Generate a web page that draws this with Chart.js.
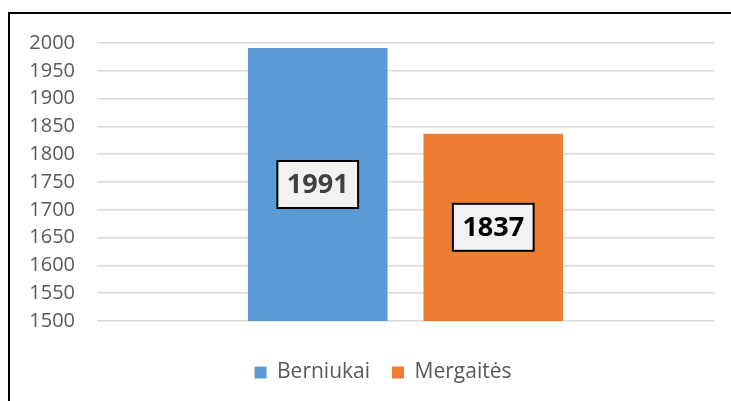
<!DOCTYPE html>
<html>
<head>
<meta charset="utf-8">
<script src="https://cdn.jsdelivr.net/npm/chart.js@4/dist/chart.umd.min.js"></script>
<style>
  html, body { margin: 0; padding: 0; background: #fff; }
  #wrap { position: relative; width: 731px; height: 401px; overflow: hidden; }
  #c { position: absolute; left: 0; top: 0; }
  #frame { position: absolute; left: 8px; top: 12px; width: 740px; height: 400px;
           border-top: 2px solid #000; border-left: 2px solid #000; box-sizing: border-box; pointer-events: none; }
</style>
</head>
<body>
<div id="wrap">
  <canvas id="c" width="731" height="401"></canvas>
  <div id="frame"></div>
</div>
<script>
const categories = [''];
const seriesNames = ['Berniukai', 'Mergaitės'];
const seriesValues = [[1991], [1837]];
const seriesColors = ['#5B9BD5', '#ED7D31'];
const labelTextColors = ['#404040', '#000000'];
const yTicks = { min: 1500, max: 2000, step: 50 };

const FONT = "'Open Sans', 'Noto Sans', sans-serif";

const boxLabels = {
  id: 'boxLabels',
  afterDraw(chart) {
    const ctx = chart.ctx;
    const yScale = chart.scales.y;
    ctx.save();
    ctx.font = "bold 27px " + FONT;
    ctx.textAlign = 'center';
    ctx.textBaseline = 'middle';
    chart.data.datasets.forEach((ds, i) => {
      const meta = chart.getDatasetMeta(i);
      meta.data.forEach((bar, j) => {
        const p = bar.getProps(['x'], true);
        const v = ds.data[j];
        const txt = String(v);
        const cx = p.x;
        const cy = (yScale.getPixelForValue(v) + yScale.getPixelForValue(yScale.min)) / 2;
        const w = ctx.measureText(txt).width + 19;
        const h = 47;
        ctx.fillStyle = '#F2F2F2';
        ctx.fillRect(cx - w / 2, cy - h / 2, w, h);
        ctx.lineWidth = 2;
        ctx.strokeStyle = '#000';
        ctx.strokeRect(cx - w / 2, cy - h / 2, w, h);
        ctx.fillStyle = labelTextColors[i];
        ctx.fillText(txt, cx, cy + 1);
      });
    });
    ctx.restore();
  }
};

const legendShift = {
  id: 'legendShift',
  beforeDraw(chart) {
    const lg = chart.legend;
    if (!lg) return;
    lg.left += 26; lg.right += 26;
    lg.top -= 8; lg.bottom -= 8;
  }
};

new Chart(document.getElementById('c'), {
  type: 'bar',
  data: {
    labels: categories,
    datasets: seriesNames.map((n, i) => ({
      label: n,
      data: seriesValues[i],
      backgroundColor: seriesColors[i],
      borderWidth: 0,
      categoryPercentage: 0.569,
      barPercentage: 0.795
    }))
  },
  options: {
    responsive: false,
    animation: false,
    devicePixelRatio: 1,
    layout: { padding: { top: 43, right: 17, bottom: 0, left: 0 } },
    plugins: {
      legend: {
        position: 'bottom',
        labels: {
          boxWidth: 12, boxHeight: 12, padding: 22,
          color: '#595959',
          font: { family: FONT, size: 21 }
        }
      },
      tooltip: { enabled: false }
    },
    scales: {
      x: {
        display: true,
        grid: { display: false },
        border: { display: false },
        ticks: { display: false },
        afterFit(s) { s.height = 27; }
      },
      y: {
        min: yTicks.min, max: yTicks.max,
        ticks: {
          stepSize: yTicks.step,
          color: '#595959',
          padding: 22,
          font: { family: FONT, size: 20 },
          callback: (v) => String(v)
        },
        grid: { color: '#D9D9D9', lineWidth: 1.5, drawTicks: false },
        border: { display: false },
        afterFit(s) { s.width = 97; }
      }
    }
  },
  plugins: [boxLabels, legendShift]
});
</script>
</body>
</html>
